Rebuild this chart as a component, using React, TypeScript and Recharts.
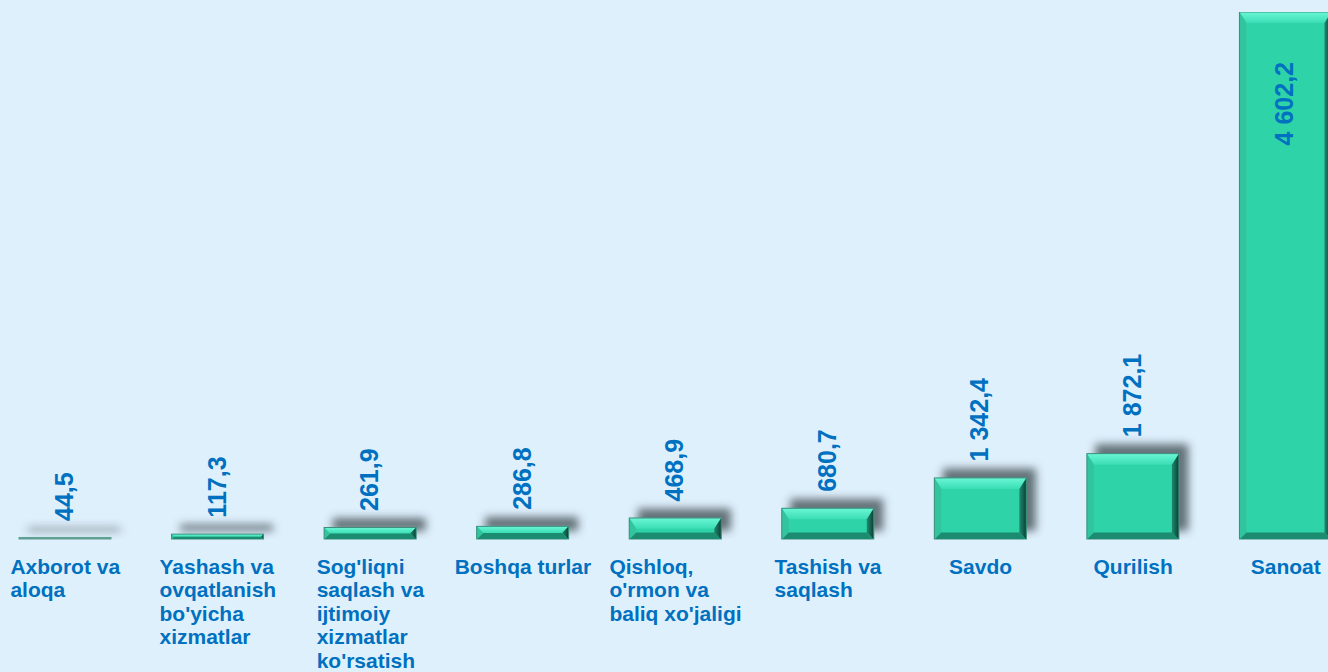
import React from 'react';
import { BarChart, Bar, XAxis, YAxis, LabelList } from 'recharts';

// Categories (line breaks as in the reference)
const categories: string[] = [
  "Axborot va\naloqa",
  "Yashash va\novqatlanish\nbo'yicha\nxizmatlar",
  "Sog'liqni\nsaqlash va\nijtimoiy\nxizmatlar\nko'rsatish",
  "Boshqa turlar",
  "Qishloq,\no'rmon va\nbaliq xo'jaligi",
  "Tashish va\nsaqlash",
  "Savdo",
  "Qurilish",
  "Sanoat",
];

// Values shown in labels
const values: number[] = [44.5, 117.3, 261.9, 286.8, 468.9, 680.7, 1342.4, 1872.1, 4602.2];

// Value axis upper bound; the Sanoat bar is drawn truncated at the axis top, as in the reference
const AXIS_MAX = 11500;
const barValues: number[] = [44.5, 117.3, 261.9, 286.8, 468.9, 680.7, 1342.4, 1872.1, AXIS_MAX];

const data = categories.map((c, i) => ({ name: c, bar: barValues[i], value: values[i] }));

const FONT = '"Liberation Sans", Arial, sans-serif';
const BLUE = '#0070C0';
const BG = '#DFF0FD';

const fmt = (v: number) => {
  const [ip, dp] = v.toFixed(1).split('.');
  const withSpaces = ip.replace(/\B(?=(\d{3})+(?!\d))/g, ' ');
  return `${withSpaces},${dp}`;
};

let measureCtx: CanvasRenderingContext2D | null = null;
const measure = (t: string, font: string) => {
  if (!measureCtx) {
    const c = document.createElement('canvas');
    measureCtx = c.getContext('2d');
  }
  if (!measureCtx) return t.length * 11;
  measureCtx.font = font;
  return measureCtx.measureText(t).width;
};

const CatTick = (props: any) => {
  const { x, y, payload } = props;
  const lines: string[] = String(payload.value).split('\n');
  const font = `bold 21px ${'Liberation Sans'}`;
  const maxW = Math.max(...lines.map((l) => measure(l, font)));
  return (
    <text
      x={x - maxW / 2}
      y={y + 26}
      fill={BLUE}
      fontFamily={FONT}
      fontWeight="bold"
      fontSize={21}
      textAnchor="start"
    >
      {lines.map((l, i) => (
        <tspan key={i} x={x - maxW / 2} dy={i === 0 ? 0 : 23.5}>
          {l}
        </tspan>
      ))}
    </text>
  );
};

const BevelBar = (props: any) => {
  const { x, y, width: w, height: h } = props;
  if (h == null || w == null || h <= 0) return null;
  const b = Math.min(7, h / 2, w / 2);
  const bt = Math.min(11, h / 2);
  const bb = Math.min(7, h / 2);
  const thin = h < 4;
  return (
    <g filter="url(#barShadow)">
      <rect x={x} y={y} width={w} height={h} fill={thin ? '#5E9F92' : '#2FD3A8'} />
      {!thin && (
        <>
          <polygon
            points={`${x},${y} ${x + w},${y} ${x + w - b},${y + bt} ${x + b},${y + bt}`}
            fill="url(#topBevel)"
          />
          <polygon
            points={`${x},${y} ${x + b},${y + bt} ${x + b},${y + h - bb} ${x},${y + h}`}
            fill="#33C49E"
          />
          <polygon
            points={`${x + w},${y} ${x + w},${y + h} ${x + w - b},${y + h - bb} ${x + w - b},${y + bt}`}
            fill="url(#rightBevel)"
          />
          <polygon
            points={`${x},${y + h} ${x + b},${y + h - bb} ${x + w - b},${y + h - bb} ${x + w},${y + h}`}
            fill="#1F8C70"
          />
        </>
      )}
      <rect x={x} y={y} width={w} height={h} fill="none" stroke={thin ? '#5E9F92' : '#3C8F7C'} strokeWidth={1} />
    </g>
  );
};

const ValueLabel = (props: any) => {
  const { x, y, width, index } = props;
  const cx = x + width / 2;
  const over = barValues[index] >= AXIS_MAX;
  const ty = over ? y + 50 : y - 16.5;
  const tx = cx + 8;
  return (
    <text
      x={tx}
      y={ty}
      transform={`rotate(-90 ${tx} ${ty})`}
      textAnchor={over ? 'end' : 'start'}
      fill={BLUE}
      fontFamily={FONT}
      fontWeight="bold"
      fontSize={25}
    >
      {fmt(values[index])}
    </text>
  );
};

export default function App() {
  return (
    <div
      style={{
        position: 'fixed',
        left: 0,
        top: 0,
        width: 1328,
        height: 672,
        background: BG,
        overflow: 'hidden',
      }}
    >
      <div style={{ position: 'absolute', left: -11, top: 0 }}>
        <BarChart
          width={1373}
          height={672}
          data={data}
          margin={{ top: 12, right: 0, bottom: 0, left: 0 }}
          barCategoryGap={0}
        >
          <defs>
            <linearGradient id="topBevel" x1="0" y1="0" x2="0" y2="1">
              <stop offset="0%" stopColor="#6AF7D6" />
              <stop offset="100%" stopColor="#3BDDB5" />
            </linearGradient>
            <linearGradient id="rightBevel" x1="0" y1="0" x2="1" y2="0">
              <stop offset="0%" stopColor="#1E8A70" />
              <stop offset="100%" stopColor="#0C3F33" />
            </linearGradient>
            <filter
              id="barShadow"
              filterUnits="userSpaceOnUse"
              x={-100}
              y={-100}
              width={1700}
              height={900}
            >
              <feDropShadow dx={9} dy={-9} stdDeviation={4.5} floodColor="#2E3A40" floodOpacity={0.7} />
            </filter>
          </defs>
          <XAxis
            dataKey="name"
            axisLine={false}
            tickLine={false}
            interval={0}
            height={132.5}
            tick={<CatTick />}
          />
          <YAxis hide domain={[0, AXIS_MAX]} allowDataOverflow />
          <Bar dataKey="bar" barSize={92} shape={<BevelBar />} isAnimationActive={false}>
            <LabelList dataKey="bar" content={<ValueLabel />} />
          </Bar>
        </BarChart>
      </div>
    </div>
  );
}
